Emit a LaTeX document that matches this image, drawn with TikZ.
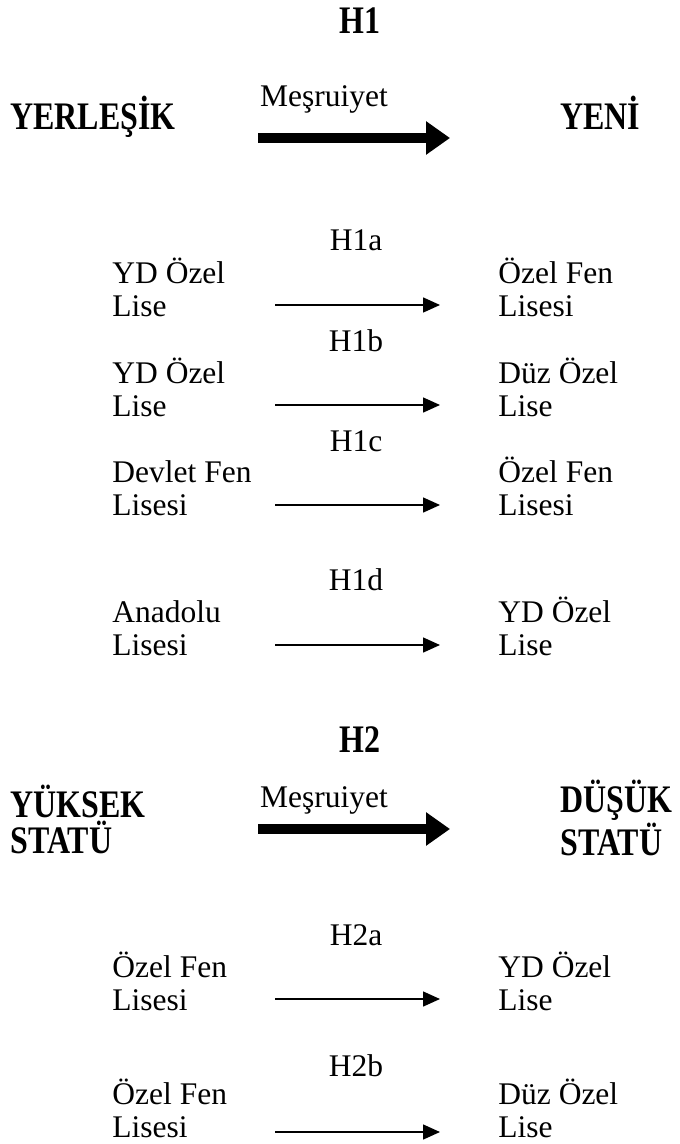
\documentclass[tikz,border=0pt]{standalone}
\usepackage{fontspec}
\setmainfont{Liberation Serif}
\usetikzlibrary{arrows.meta,positioning}

\newcommand{\cond}[1]{\scalebox{0.82}[1]{#1}}

\tikzset{
  txt/.style={inner sep=0pt,align=left,font=\fontsize{15.75}{16.5}\selectfont},
  bold/.style={txt,font=\fontsize{19.5}{18}\selectfont\bfseries},
  thin/.style={line width=0.75pt,-{Triangle[length=8.5pt,width=7.5pt]}},
  thick/.style={line width=5pt,-{Triangle[length=12pt,width=16pt]}}
}

\begin{document}
\begin{tikzpicture}[x=0.5pt,y=-0.5pt]
%
\useasboundingbox (0,0) rectangle (679,1144);
%
% H1
\node[bold,anchor=base] (h1) at (360,34) {\cond{H1}};
\node[bold,anchor=base west] (yerlesik) at (10,130) {\cond{YERLEŞİK}};
\node[bold,anchor=base west] (yeni) at (560,130) {\cond{YENİ}};
\node[txt,anchor=base] (mesru1) at (324,107) {Meşruiyet};
\coordinate (t1s) at (258,138);
\coordinate (t1e) at (450,138);
\draw[thick] (t1s) -- (t1e);
%
\node[txt,anchor=base] (h1a) at (356,251) {H1a};
\node[txt,anchor=base west] (h1al) at (112,316) {YD Özel\\Lise};
\node[txt,anchor=base west] (h1ar) at (498,316) {Özel Fen\\Lisesi};
\coordinate (a1s) at (275,305);
\coordinate (a1e) at (440,305);
\draw[thin] (a1s) -- (a1e);
%
\node[txt,anchor=base] (h1b) at (356,351) {H1b};
\node[txt,anchor=base west] (h1bl) at (112,416) {YD Özel\\Lise};
\node[txt,anchor=base west] (h1br) at (498,416) {Düz Özel\\Lise};
\coordinate (b1s) at (275,405);
\coordinate (b1e) at (440,405);
\draw[thin] (b1s) -- (b1e);
%
\node[txt,anchor=base] (h1c) at (356,451) {H1c};
\node[txt,anchor=base west] (h1cl) at (112,515) {Devlet Fen\\Lisesi};
\node[txt,anchor=base west] (h1cr) at (498,515) {Özel Fen\\Lisesi};
\coordinate (c1s) at (275,505);
\coordinate (c1e) at (440,505);
\draw[thin] (c1s) -- (c1e);
%
\node[txt,anchor=base] (h1d) at (356,590) {H1d};
\node[txt,anchor=base west] (h1dl) at (112,655) {Anadolu\\Lisesi};
\node[txt,anchor=base west] (h1dr) at (498,655) {YD Özel\\Lise};
\coordinate (d1s) at (275,645);
\coordinate (d1e) at (440,645);
\draw[thin] (d1s) -- (d1e);
%
% H2
\node[bold,anchor=base] (h2) at (360,752) {\cond{H2}};
\node[bold,anchor=base west] (yuksek) at (10,853) {\cond{YÜKSEK}\\\cond{STATÜ}};
\node[bold,anchor=base west] (dusuk) at (560,855) {\cond{DÜŞÜK}\\\cond{STATÜ}};
\node[txt,anchor=base] (mesru2) at (324,807) {Meşruiyet};
\coordinate (t2s) at (258,829);
\coordinate (t2e) at (450,829);
\draw[thick] (t2s) -- (t2e);
%
\node[txt,anchor=base] (h2a) at (356,945) {H2a};
\node[txt,anchor=base west] (h2al) at (112,1010) {Özel Fen\\Lisesi};
\node[txt,anchor=base west] (h2ar) at (498,1010) {YD Özel\\Lise};
\coordinate (a2s) at (275,999);
\coordinate (a2e) at (440,999);
\draw[thin] (a2s) -- (a2e);
%
\node[txt,anchor=base] (h2b) at (356,1076) {H2b};
\node[txt,anchor=base west] (h2bl) at (112,1137) {Özel Fen\\Lisesi};
\node[txt,anchor=base west] (h2br) at (498,1137) {Düz Özel\\Lise};
\coordinate (b2s) at (275,1132);
\coordinate (b2e) at (440,1132);
\draw[thin] (b2s) -- (b2e);
%
\end{tikzpicture}
\end{document}
